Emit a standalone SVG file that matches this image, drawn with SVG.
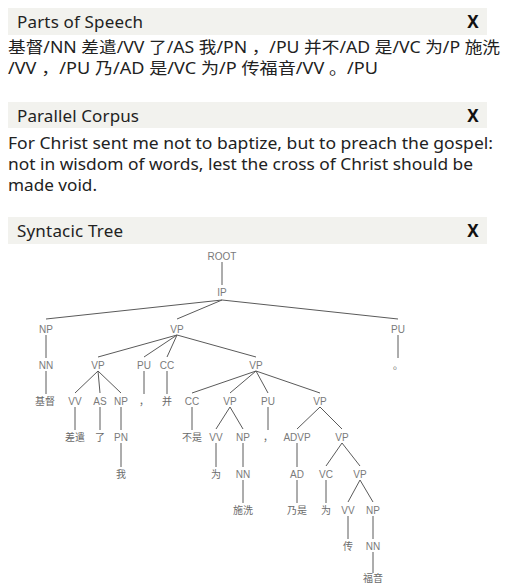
<svg xmlns="http://www.w3.org/2000/svg" width="510" height="584" viewBox="0 0 510 584">
<style>
.bar{fill:#f2f2ee}
.ht{font-family:"Noto Sans","Liberation Sans",sans-serif;font-size:17px;fill:#222}
.x{font-family:"Noto Sans","Liberation Sans",sans-serif;font-size:17px;font-weight:bold;fill:#111;text-anchor:middle}
.bt{font-family:"Noto Sans","Noto Sans CJK SC",sans-serif;font-size:16px;fill:#222}
.n{font-family:"Liberation Sans","Noto Sans CJK SC",sans-serif;font-size:10px;fill:#7a7a7a;text-anchor:middle}
.w{font-family:"Noto Sans CJK SC",sans-serif;font-size:10px;fill:#6a6a6a;text-anchor:middle}
.e line{stroke:#5a5a5a;stroke-width:1}
</style>
<rect width="510" height="584" fill="#fff"/>
<g id="pos-panel">
<rect class="bar" x="8" y="8" width="479" height="27"/>
<text class="ht" x="17" y="28" textLength="126">Parts of Speech</text>
<text class="x" x="473" y="28">X</text>
<text class="bt" x="8" y="53" textLength="492" lengthAdjust="spacingAndGlyphs">基督/NN 差遣/VV 了/AS 我/PN ，/PU 并不/AD 是/VC 为/P 施洗</text>
<text class="bt" x="8" y="74" textLength="370" lengthAdjust="spacingAndGlyphs">/VV ，/PU 乃/AD 是/VC 为/P 传福音/VV 。/PU</text>
</g>
<g id="corpus-panel">
<rect class="bar" x="8" y="102" width="479" height="26"/>
<text class="ht" x="17" y="122" textLength="122">Parallel Corpus</text>
<text class="x" x="473" y="122">X</text>
<text class="bt" x="8" y="149" textLength="485" lengthAdjust="spacingAndGlyphs">For Christ sent me not to baptize, but to preach the gospel:</text>
<text class="bt" x="8" y="170" textLength="465" lengthAdjust="spacingAndGlyphs">not in wisdom of words, lest the cross of Christ should be</text>
<text class="bt" x="8" y="191" textLength="89" lengthAdjust="spacingAndGlyphs">made void.</text>
</g>
<g id="tree-panel">
<rect class="bar" x="8" y="217" width="479" height="27"/>
<text class="ht" x="17" y="237" textLength="106">Syntacic Tree</text>
<text class="x" x="473" y="237">X</text>
</g>
<g id="connectors" class="e">
<line x1="222" y1="262" x2="222" y2="285"/>
<line x1="222" y1="300" x2="46" y2="319"/>
<line x1="222" y1="300" x2="177" y2="319"/>
<line x1="222" y1="300" x2="398" y2="319"/>
<line x1="46" y1="335" x2="46" y2="358"/>
<line x1="46" y1="371" x2="46" y2="394"/>
<line x1="177" y1="335" x2="98" y2="357"/>
<line x1="177" y1="335" x2="144" y2="357"/>
<line x1="177" y1="335" x2="167" y2="357"/>
<line x1="177" y1="335" x2="256" y2="357"/>
<line x1="398" y1="335" x2="398" y2="358"/>
<line x1="98" y1="371" x2="75" y2="393"/>
<line x1="98" y1="371" x2="100" y2="393"/>
<line x1="98" y1="371" x2="121" y2="393"/>
<line x1="144" y1="371" x2="144" y2="394"/>
<line x1="167" y1="371" x2="167" y2="394"/>
<line x1="256" y1="371" x2="192" y2="393"/>
<line x1="256" y1="371" x2="230" y2="393"/>
<line x1="256" y1="371" x2="268" y2="393"/>
<line x1="256" y1="371" x2="320" y2="393"/>
<line x1="75" y1="407" x2="75" y2="430"/>
<line x1="100" y1="407" x2="100" y2="430"/>
<line x1="121" y1="407" x2="121" y2="430"/>
<line x1="192" y1="407" x2="192" y2="430"/>
<line x1="230" y1="407" x2="216" y2="429"/>
<line x1="230" y1="407" x2="243" y2="429"/>
<line x1="268" y1="407" x2="268" y2="430"/>
<line x1="320" y1="407" x2="297" y2="429"/>
<line x1="320" y1="407" x2="342" y2="429"/>
<line x1="121" y1="443" x2="121" y2="467"/>
<line x1="216" y1="443" x2="216" y2="467"/>
<line x1="243" y1="443" x2="243" y2="467"/>
<line x1="297" y1="443" x2="297" y2="467"/>
<line x1="342" y1="443" x2="326" y2="466"/>
<line x1="342" y1="443" x2="360" y2="466"/>
<line x1="243" y1="480" x2="243" y2="503"/>
<line x1="297" y1="480" x2="297" y2="503"/>
<line x1="326" y1="480" x2="326" y2="503"/>
<line x1="360" y1="480" x2="348" y2="502"/>
<line x1="360" y1="480" x2="373" y2="502"/>
<line x1="348" y1="516" x2="348" y2="539"/>
<line x1="373" y1="516" x2="373" y2="539"/>
<line x1="373" y1="552" x2="373" y2="573"/>
</g>
<g id="root"><text class="n" x="222" y="259.6">ROOT</text></g>
<g id="ip"><text class="n" x="222" y="295.6">IP</text></g>
<g id="np1"><text class="n" x="46" y="332.6">NP</text></g>
<g id="vp1"><text class="n" x="177" y="332.6">VP</text></g>
<g id="pu1"><text class="n" x="398" y="332.6">PU</text></g>
<g id="nn1"><text class="n" x="46" y="368.6">NN</text></g>
<g id="vp2"><text class="n" x="98" y="368.6">VP</text></g>
<g id="pu2"><text class="n" x="144" y="368.6">PU</text></g>
<g id="cc1"><text class="n" x="167" y="368.6">CC</text></g>
<g id="vp3"><text class="n" x="256" y="368.6">VP</text></g>
<g id="w-period"><text class="w" x="398" y="369">。</text></g>
<g id="w-jidu"><text class="w" x="45" y="405">基督</text></g>
<g id="vv1"><text class="n" x="75" y="404.6">VV</text></g>
<g id="as"><text class="n" x="100" y="404.6">AS</text></g>
<g id="np2"><text class="n" x="121" y="404.6">NP</text></g>
<g id="w-comma1"><text class="w" x="144" y="405">，</text></g>
<g id="w-bing"><text class="w" x="167" y="405">并</text></g>
<g id="cc2"><text class="n" x="192" y="404.6">CC</text></g>
<g id="vp4"><text class="n" x="230" y="404.6">VP</text></g>
<g id="pu3"><text class="n" x="268" y="404.6">PU</text></g>
<g id="vp5"><text class="n" x="320" y="404.6">VP</text></g>
<g id="w-chaiqian"><text class="w" x="75" y="441">差遣</text></g>
<g id="w-le"><text class="w" x="100" y="441">了</text></g>
<g id="pn"><text class="n" x="121" y="440.6">PN</text></g>
<g id="w-bushi"><text class="w" x="192" y="441">不是</text></g>
<g id="vv2"><text class="n" x="216" y="440.6">VV</text></g>
<g id="np3"><text class="n" x="243" y="440.6">NP</text></g>
<g id="w-comma2"><text class="w" x="268" y="441">，</text></g>
<g id="advp"><text class="n" x="297" y="440.6">ADVP</text></g>
<g id="vp6"><text class="n" x="342" y="440.6">VP</text></g>
<g id="w-wo"><text class="w" x="121" y="478">我</text></g>
<g id="w-wei1"><text class="w" x="216" y="478">为</text></g>
<g id="nn2"><text class="n" x="243" y="477.6">NN</text></g>
<g id="ad"><text class="n" x="297" y="477.6">AD</text></g>
<g id="vc"><text class="n" x="326" y="477.6">VC</text></g>
<g id="vp7"><text class="n" x="360" y="477.6">VP</text></g>
<g id="w-shixi"><text class="w" x="243" y="514">施洗</text></g>
<g id="w-naishi"><text class="w" x="297" y="514">乃是</text></g>
<g id="w-wei2"><text class="w" x="326" y="514">为</text></g>
<g id="vv3"><text class="n" x="348" y="513.6">VV</text></g>
<g id="np4"><text class="n" x="373" y="513.6">NP</text></g>
<g id="w-chuan"><text class="w" x="348" y="550">传</text></g>
<g id="nn3"><text class="n" x="373" y="549.6">NN</text></g>
<g id="w-fuyin"><text class="w" x="373" y="582">福音</text></g>
</svg>
